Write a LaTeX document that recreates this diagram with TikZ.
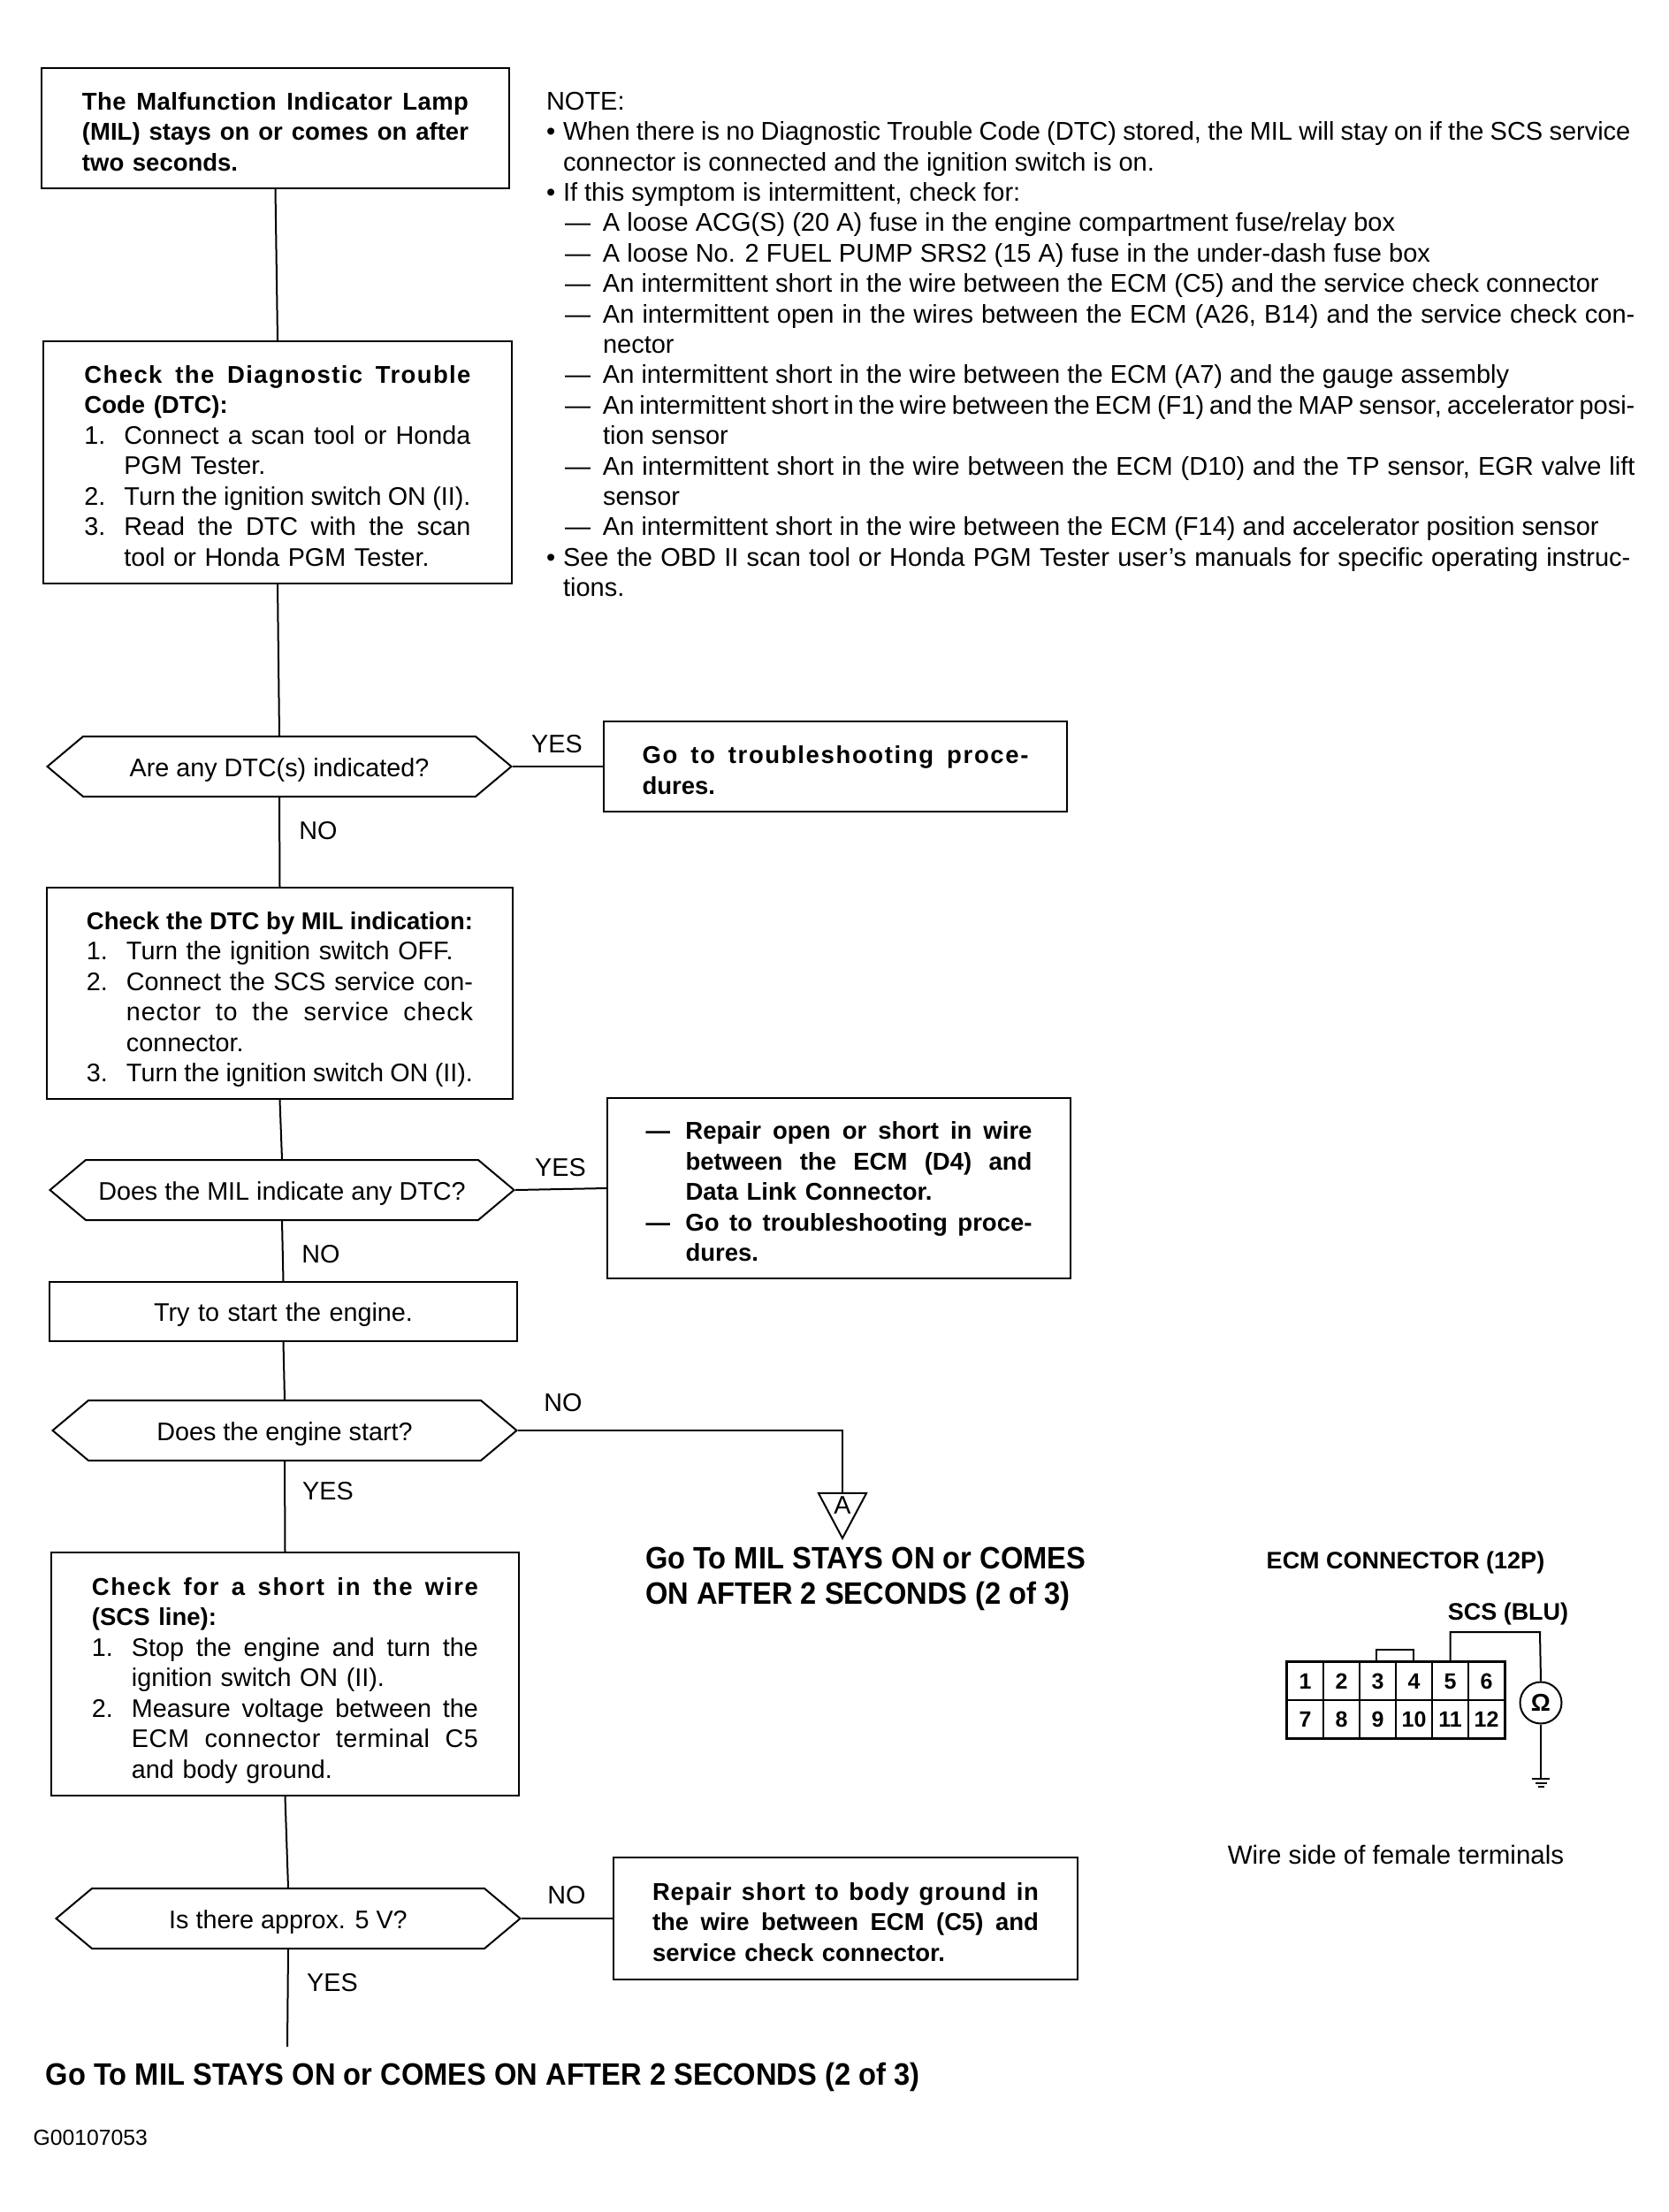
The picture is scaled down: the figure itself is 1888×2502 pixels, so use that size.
\documentclass[tikz,border=0pt]{standalone}
\usepackage{fontspec}
\setmainfont{Liberation Sans}
\newfontfamily\gofont[FakeStretch=0.933]{Liberation Sans}
\usetikzlibrary{shapes.geometric,shapes.symbols}

\newlength\blockw
\setlength\blockw{174.8pt}
\newlength\numw
\setlength\numw{18pt}
\newcommand{\nj}[2]{\makebox[#1][s]{\spaceskip=0pt\xspaceskip=0pt #2}}
\newcommand{\fl}[1]{\nj{\blockw}{#1}}
\newcommand{\wl}[2]{\nj{\blockw}{\addfontfeature{LetterSpace=#1}#2}}
\newcommand{\nl}[2]{\makebox[\numw][l]{#1}\nj{\dimexpr\blockw-\numw\relax}{#2}}
\newcommand{\ol}[1]{\hspace*{\numw}#1}
\newcommand{\oj}[2]{\hspace*{\numw}\nj{\dimexpr\blockw-\numw\relax}{\addfontfeature{LetterSpace=#1}#2}}
\newcommand{\dl}[1]{\makebox[18pt][l]{\textemdash}\nj{\dimexpr\blockw-18pt\relax}{#1}}
\newcommand{\nb}[1]{\makebox[7.6pt][l]{\textbullet}#1}
\newcommand{\nd}[1]{\hspace*{8.4pt}\makebox[17.2pt][l]{\textemdash}#1}
\newcommand{\hd}{\fontsize{11}{13.8}\selectfont\bfseries}
\newcommand{\rd}{\fontsize{11.5}{13.8}\selectfont\mdseries}

\begin{document}
\begin{tikzpicture}
  [x=.4pt,y=-.4pt,line width=.8pt,
   bodyfont/.style={font=\fontsize{11.5}{13.8}\selectfont},
   textbox/.style 2 args={draw,rectangle,bodyfont,text width=\blockw,align=left,inner sep=0pt,
     minimum width=#1*.4pt,minimum height=#2*.4pt,execute at begin node={\rule{0pt}{11.2pt}}},
   query/.style={draw,signal,signal to=west and east,signal pointer angle=80,bodyfont,align=center,inner sep=0pt,
     minimum width=525*.4pt,minimum height=68*.4pt,execute at begin node={\rule{0pt}{11.2pt}}},
   answer/.style={bodyfont,inner sep=0pt},
   cell/.style={draw,rectangle,line width=.5pt,inner sep=0pt,minimum width=16.4pt,minimum height=17.2pt,font=\fontsize{10}{12}\selectfont\bfseries},
   goto/.style={font=\fontsize{14}{16}\gofont\bfseries,align=left,inner sep=0pt,anchor=west},
   ecmfont/.style={inner sep=0pt,font=\fontsize{10.8}{12}\selectfont\bfseries}]
  \useasboundingbox (0,0) rectangle (1888,2502);

  % left column
  \node (lamp) at (311.5,145) [textbox={529}{136}]
    {\hd\wl{1.5}{The Malfunction Indicator Lamp}\\\fl{(MIL) stays on or comes on after}\\two seconds.};
  \node (code) at (314,523) [textbox={530}{274}]
    {\hd\wl{5}{Check the Diagnostic Trouble}\\Code (DTC):\rd\\
     \nl{1.}{Connect a scan tool or Honda}\\\ol{PGM Tester.}\\
     \nl{2.}{Turn the ignition switch ON (II).}\\
     \nl{3.}{Read the DTC with the scan}\\\ol{tool or Honda PGM Tester.}};
  \node (anydtc) at (316,867) [query] {Are any DTC(s) indicated?};
  \node (bymil) at (316.5,1123.5) [textbox={527}{239}]
    {\rule{0pt}{13.6pt}\hd\fl{Check the DTC by MIL indication:}\rd\\
     \makebox[\numw][l]{1.}Turn the ignition switch OFF.\\
     \nl{2.}{Connect the SCS service con-}\\
     \oj{3}{nector to the service check}\\\ol{connector.}\\
     \nl{3.}{Turn the ignition switch ON (II).}};
  \node (anymil) at (319,1346) [query] {Does the MIL indicate any DTC?};
  \node (start) at (320.5,1483.5) [textbox={529}{67},align=center] {Try to start the engine.};
  \node (engine) at (322,1618) [query] {Does the engine start?};
  \node (short) at (322.5,1893.5) [textbox={529}{275}]
    {\rule{0pt}{13.6pt}\hd\wl{6}{Check for a short in the wire}\\(SCS line):\rd\\
     \nl{1.}{Stop the engine and turn the}\\\ol{ignition switch ON (II).}\\
     \nl{2.}{Measure voltage between the}\\
     \oj{2}{ECM connector terminal C5}\\\ol{and body ground.}};
  \node (volt) at (326,2170) [query] {Is there approx. 5 V?};
  \coordinate (leave) at (325,2315);

  % right column
  \node (proc) at (945,867) [textbox={524}{102}]
    {\hd\wl{6}{Go to troubleshooting proce-}\\dures.};
  \node (repair) at (949,1344) [textbox={524}{204}]
    {\hd\dl{Repair open or short in wire}\\
     \ol{\nj{\dimexpr\blockw-\numw\relax}{between the ECM (D4) and}}\\\ol{Data Link Connector.}\\
     \dl{Go to troubleshooting proce-}\\\ol{dures.}};
  \node (ground) at (956.5,2170) [textbox={525}{138}]
    {\hd\wl{3}{Repair short to body ground in}\\\fl{the wire between ECM (C5) and}\\service check connector.};
  \node (mark) at (953,1703) [draw,isosceles triangle,isosceles triangle apex angle=56,shape border rotate=270,
    minimum height=20.4pt,inner sep=0pt,bodyfont] {A};

  \foreach \from/\to in {lamp/code,code/anydtc,anydtc/bymil,bymil/anymil,anymil/start,start/engine,engine/short,short/volt,volt/leave}
    \draw (\from.south) -- (\to.north);
  \foreach \from/\to in {anydtc/proc,anymil/repair,volt/ground}
    \draw (\from.east) -- (\to.west);
  \draw (engine.east) -| (mark.north);

  \foreach \name/\px/\py/\word in {yes1/630/842/YES,no1/360/940/NO,yes2/634/1321/YES,no2/363/1419/NO,
      no3/637/1587/NO,yes3/371/1687/YES,no4/641/2144/NO,yes4/376/2243/YES}
    \node (\name) at (\px,\py) [answer] {\word};

  % note block
  \node (notes) at (617,103) [anchor=north west,font=\fontsize{11.6}{13.76}\selectfont,align=left,inner sep=0pt] {NOTE:\\
    \nb{\nj{483pt}{When there is no Diagnostic Trouble Code (DTC) stored, the MIL will stay on if the SCS service}}\\
    \hspace*{7.6pt}connector is connected and the ignition switch is on.\\
    \nb{If this symptom is intermittent, check for:}\\
    \nd{A loose ACG(S) (20 A) fuse in the engine compartment fuse/relay box}\\
    \nd{A loose No. 2 FUEL PUMP SRS2 (15 A) fuse in the under-dash fuse box}\\
    \nd{An intermittent short in the wire between the ECM (C5) and the service check connector}\\
    \nd{\nj{467pt}{An intermittent open in the wires between the ECM (A26, B14) and the service check con-}}\\
    \hspace*{25.6pt}nector\\
    \nd{An intermittent short in the wire between the ECM (A7) and the gauge assembly}\\
    \nd{\nj{467pt}{An intermittent short in the wire between the ECM (F1) and the MAP sensor, accelerator posi-}}\\
    \hspace*{25.6pt}tion sensor\\
    \nd{\nj{467pt}{An intermittent short in the wire between the ECM (D10) and the TP sensor, EGR valve lift}}\\
    \hspace*{25.6pt}sensor\\
    \nd{An intermittent short in the wire between the ECM (F14) and accelerator position sensor}\\
    \nb{\nj{483pt}{See the OBD II scan tool or Honda PGM Tester user's manuals for specific operating instruc-}}\\
    \hspace*{7.6pt}tions.};

  % go to texts
  \node (goright) at (729,1786) [goto] {Go To MIL STAYS ON or COMES\\ON AFTER 2 SECONDS (2 of 3)};
  \node (godown) at (51,2349) [goto] {Go To MIL STAYS ON or COMES ON AFTER 2 SECONDS (2 of 3)};
  \node (figid) at (36.5,2418) [anchor=west,inner sep=0pt,font=\fontsize{9.9}{12}\selectfont] {G00107053};

  % ECM connector
  \node (ecmtitle) at (1590,1767) [ecmfont] {ECM CONNECTOR (12P)};
  \node (scstitle) at (1706,1825) [ecmfont] {SCS (BLU)};
  \foreach \n [evaluate=\n as \m using int(\n+6)] in {1,...,6} {
    \node (c\n) at ({1456+(\n-.5)*41},1901.5) [cell] {\n};
    \node (c\m) at ({1456+(\n-.5)*41},1944.5) [cell] {\m};
  }
  \draw [line width=1.4pt] (c1.north west) rectangle (c12.south east);
  \draw [line width=1.1pt] (1557,1880) |- (1599,1866) -- (1599,1880);
  \node (ohm) at (1743,1926) [draw,circle,inner sep=0pt,minimum size=18.8pt,font=\fontsize{11}{12}\selectfont\bfseries] {\char"03A9};
  \coordinate (bend) at (1742,1846);
  \coordinate (gnd) at (1743,2012);
  \draw (c5.north) |- (bend) -- (ohm.north);
  \draw (ohm.south) -- (gnd);
  \draw (1733,2012) -- (1753,2012);
  \draw (1737,2017) -- (1750,2017);
  \draw (1740,2021) -- (1747,2021);
  \node (wireside) at (1579,2098) [answer,font=\fontsize{11.8}{13.8}\selectfont] {Wire side of female terminals};
\end{tikzpicture}
\end{document}
